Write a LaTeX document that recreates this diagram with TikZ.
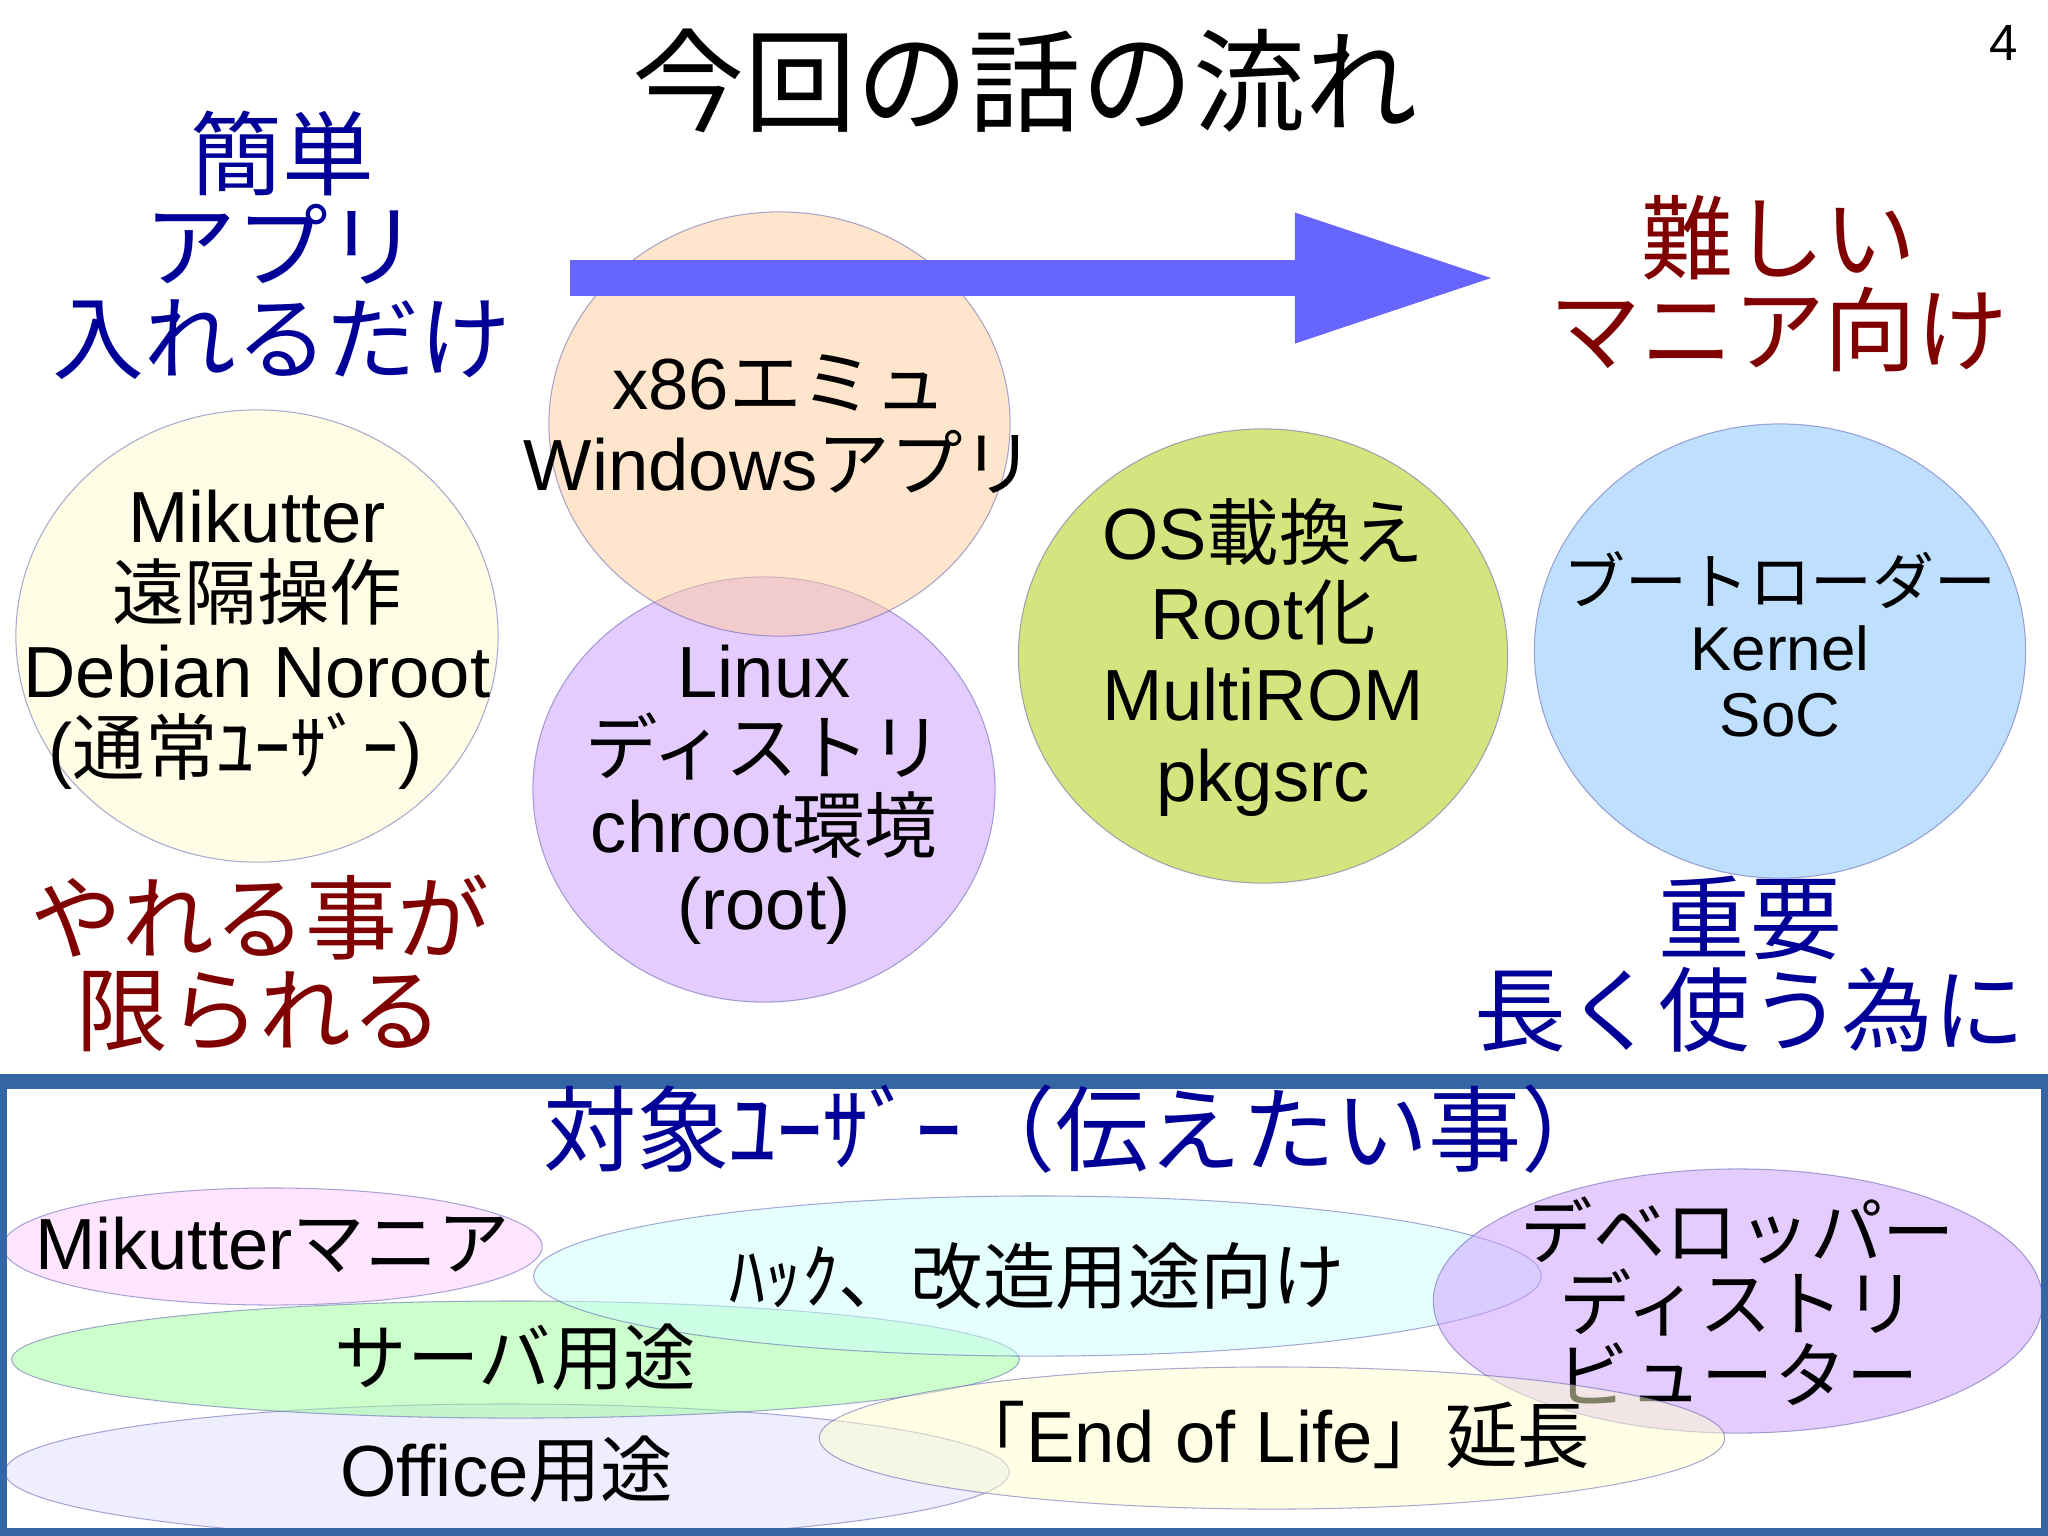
\documentclass[tikz,border=0pt]{standalone}
\usepackage{fontspec}
\setmainfont{Liberation Sans}
\newfontfamily\jpfont{Noto Sans CJK JP}
\newcommand{\jp}[1]{{\jpfont #1}}
\setlength{\lineskiplimit}{-100pt}
\usetikzlibrary{shapes.geometric, arrows.meta}
\definecolor{headblue}{HTML}{000099}
\definecolor{headred}{HTML}{800000}
\definecolor{framecol}{HTML}{3465A4}
\definecolor{arrowcol}{HTML}{6666FF}
\tikzset{
    blob/.style={ellipse, draw=blue!35!gray, line width=0.3pt, fill opacity=0.5, draw opacity=0.5, inner sep=0pt, outer sep=0pt},
    blurb/.style={align=center, inner sep=0pt, font=\fontsize{20.6}{#1}\selectfont},
    blurb/.default=22,
    headline/.style={align=center, inner sep=0pt, text=#1, font=\fontsize{26.1}{26.2}\selectfont},
    bigarrow/.style={draw=arrowcol, line width=10.5pt, -{Triangle[length=55.8pt, width=37.3pt, line width=0pt, fill=arrowcol]}}
}
\begin{document}
\begin{tikzpicture}[x=0.01cm, y=-0.01cm]
    \useasboundingbox (0,0) rectangle (2048,1535);
    \node[inner sep=0pt, font=\fontsize{31.9}{34}\selectfont] (title) at (1025,81) {\jp{今回の話の流れ}};
    \node[inner sep=0pt, font=\fontsize{14.5}{15}\selectfont] (pageno) at (2004,43) {4};
    % Headlines
    \node[headline=headblue] (easy) at (282,245) {\jp{簡単}\\\jp{アプリ}\\\jp{入れるだけ}};
    \node[headline=headred] (hard) at (1779,284) {\jp{難しい}\\\jp{マニア向け}};
    \node[headline=headred] (limited) at (260,963) {\jp{やれる事が}\\\jp{限られる}};
    \node[headline=headblue] (important) at (1750,964) {\jp{重要}\\\jp{長く使う為に}};
    % Upper row
    \node[blob, fill=yellow!20!white, minimum width=4.82cm, minimum height=4.52cm] (mikutter) at (257,636) {};
    \node[blurb, yshift=-1.1pt] (mikuttertext) at (mikutter) {Mikutter\\\jp{遠隔操作}\\Debian Noroot\\(\jp{通常ﾕｰｻﾞｰ})\hspace*{12pt}};
    \node[blob, fill={rgb,255:red,204;green,153;blue,255}, minimum width=4.62cm, minimum height=4.25cm] (linux) at (764,789.5) {};
    \node[blurb, yshift=-1.5pt] (linuxtext) at (linux) {Linux\\\jp{ディストリ}\\chroot\jp{環境}\\(root)};
    \node[blob, fill={rgb,255:red,255;green,204;blue,153}, minimum width=4.61cm, minimum height=4.24cm] (emu) at (779.5,424) {};
    \node[blurb=23] (emutext) at (emu) {x86\jp{エミュ}\\Windows\jp{アプリ}};
    \node[blob, fill={rgb,255:red,170;green,204;blue,0}, minimum width=4.89cm, minimum height=4.54cm] (rootos) at (1263,656) {};
    \node[blurb=23, yshift=-0.4pt] (rootostext) at (rootos) {OS\jp{載換え}\\Root\jp{化}\\MultiROM\\pkgsrc};
    \node[blob, fill={rgb,255:red,128;green,192;blue,255}, minimum width=4.91cm, minimum height=4.54cm] (kernel) at (1780,651) {};
    \node[align=center, inner sep=0pt, yshift=1.9pt, font=\fontsize{17.6}{18.8}\selectfont] (kerneltext) at (kernel) {\jp{ブートローダー}\\Kernel\\SoC};
    % Direction arrow
    \coordinate (arrowstart) at (570,278);
    \coordinate (arrowend) at (1491,278);
    \draw[bigarrow] (arrowstart) -- (arrowend);
    % Lower box
    \node[blob, fill={rgb,255:red,255;green,204;blue,255}, minimum width=5.39cm, minimum height=1.17cm] (fans) at (272.5,1246.5) {};
    \node[blurb, yshift=0.6pt] (fanstext) at (fans) {Mikutter\jp{マニア}};
    \node[blob, fill={rgb,255:red,221;green,221;blue,255}, minimum width=10.04cm, minimum height=1.36cm] (office) at (507,1472) {};
    \node[blurb, yshift=0.9pt] (officetext) at (office) {Office\jp{用途}};
    \node[blob, fill={rgb,255:red,153;green,255;blue,153}, minimum width=10.07cm, minimum height=1.17cm] (server) at (515.5,1359.5) {};
    \node[blob, fill={rgb,255:red,204;green,255;blue,255}, minimum width=10.07cm, minimum height=1.6cm] (hack) at (1037.5,1276) {};
    \node[blurb] (hacktext) at (hack) {\jp{ﾊｯｸ、改造用途向け}};
    \node[blurb, yshift=0.6pt] (servertext) at (server) {\jp{サーバ用途}};
    \node[blob, fill={rgb,255:red,204;green,153;blue,255}, minimum width=6.09cm, minimum height=2.64cm] (dev) at (1738,1301) {};
    \node[blurb=20.4] (devtext) at (dev) {\jp{デベロッパー}\\\jp{ディストリ}\\\jp{ビューター}};
    \node[blob, fill={rgb,255:red,255;green,255;blue,204}, minimum width=9.05cm, minimum height=1.42cm] (eol) at (1272,1438) {};
    \node[blurb, yshift=0.9pt] (eoltext) at (eol) {\jp{「}End of Life\jp{」延長}};
    \node[draw=framecol, line width=4.3pt, inner sep=0pt, minimum width=20.47cm, minimum height=4.54cm] (audience) at (1024,1308.5) {};
    \node[headline=headblue, font=\fontsize{26.5}{27}\selectfont] (audiencetext) at (1079,1129) {\jp{対象ﾕｰｻﾞｰ（伝えたい事）}};
\end{tikzpicture}
\end{document}
